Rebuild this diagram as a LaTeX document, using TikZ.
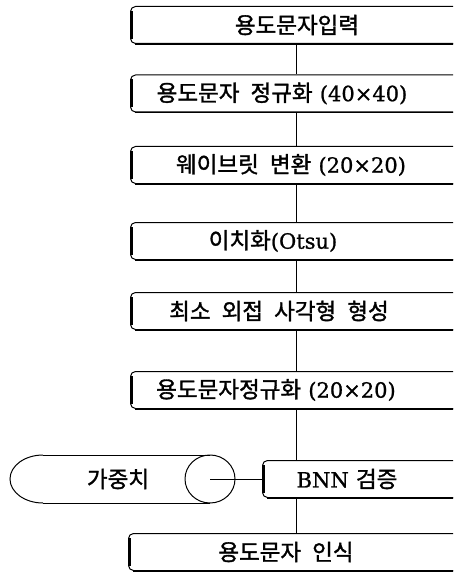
\documentclass[tikz,border=0pt]{standalone}
\usepackage{fontspec}
\setmainfont{DejaVu Serif}[FakeBold=1]
\newfontfamily\kr{Noto Sans CJK KR}[FakeBold=1.5,WordSpace=2.2]
\newcommand\lt{\fontsize{21}{26}\selectfont}
\begin{document}
\begin{tikzpicture}[x=1pt,y=-1pt,
  box/.style={draw, line width=1pt, rounded corners=5pt, minimum width=340pt,
    minimum height=37pt, anchor=west, inner sep=0pt},
  lbl/.style={font=\fontsize{22.5}{26}\selectfont, inner sep=0pt},
  conn/.style={line width=0.9pt},
  cyl/.style={line width=1pt}]
\useasboundingbox (0,0) rectangle (453,572);
\clip (0,0) rectangle (453,572);
% boxes
\node[box] (b1) at (130,25) {};
\node[box] (b2) at (130,93.5) {};
\node[box] (b3) at (130,165) {};
\node[box] (b4) at (130,241) {};
\node[box] (b5) at (130,311) {};
\node[box] (b6) at (130,390) {};
\node[box] (b7) at (262,479) {};
\node[box] (b8) at (128,552) {};
\foreach \n in {b1,b2,b3,b4,b5,b6,b7,b8}{
  \draw[line width=3pt] ([shift={(1.3,5)}]\n.north west) -- ([shift={(1.3,-5)}]\n.south west);
  \draw[line width=1.7pt] ([shift={(5,0)}]\n.south west) -- (\n.south east);
}
% labels
\node[lbl] (t1) at (297,25) {\kr 용도문자입력};
\node[lbl] (t2) at (282,93.5) {{\kr 용도문자 정규화}\ {\lt(40×40)}};
\node[lbl] (t3) at (291,165) {{\kr 웨이브릿 변환}\ {\lt(20×20)}};
\node[lbl] (t4) at (273,241) {{\kr 이치화}{\lt(Otsu)}};
\node[lbl] (t5) at (279,311) {\kr 최소 외접 사각형 형성};
\node[lbl] (t6) at (276,390) {{\kr 용도문자정규화}\ {\lt(20×20)}};
\node[lbl] (t7) at (347,479) {{\lt BNN}\ {\kr 검증}};
\node[lbl] (t8) at (286,552) {\kr 용도문자 인식};
% spine
\coordinate (spine) at (296,0);
\draw[conn] (b1.south -| spine) -- (b2.north -| spine);
\draw[conn] (b2.south -| spine) -- (b3.north -| spine);
\draw[conn] (b3.south -| spine) -- (b4.north -| spine);
\draw[conn] (b4.south -| spine) -- (b5.north -| spine);
\draw[conn] (b5.south -| spine) -- (b6.north -| spine);
\draw[conn] (b6.south -| spine) -- (b7.north -| spine);
\draw[conn] (b7.south -| spine) -- (b8.north -| spine);
% cylinder (weights store)
\draw[cyl] (43,455) -- (210,455) (43,503) -- (210,503);
\draw[cyl] (43,455) arc[start angle=270, end angle=90, x radius=33, y radius=24];
\coordinate (disk) at (210,479);
\draw[cyl] (disk) ellipse[x radius=25, y radius=24];
\node[lbl] (wt) at (118,479) {\kr 가중치};
\draw[conn] (disk) -- (b7.west);
\end{tikzpicture}
\end{document}
